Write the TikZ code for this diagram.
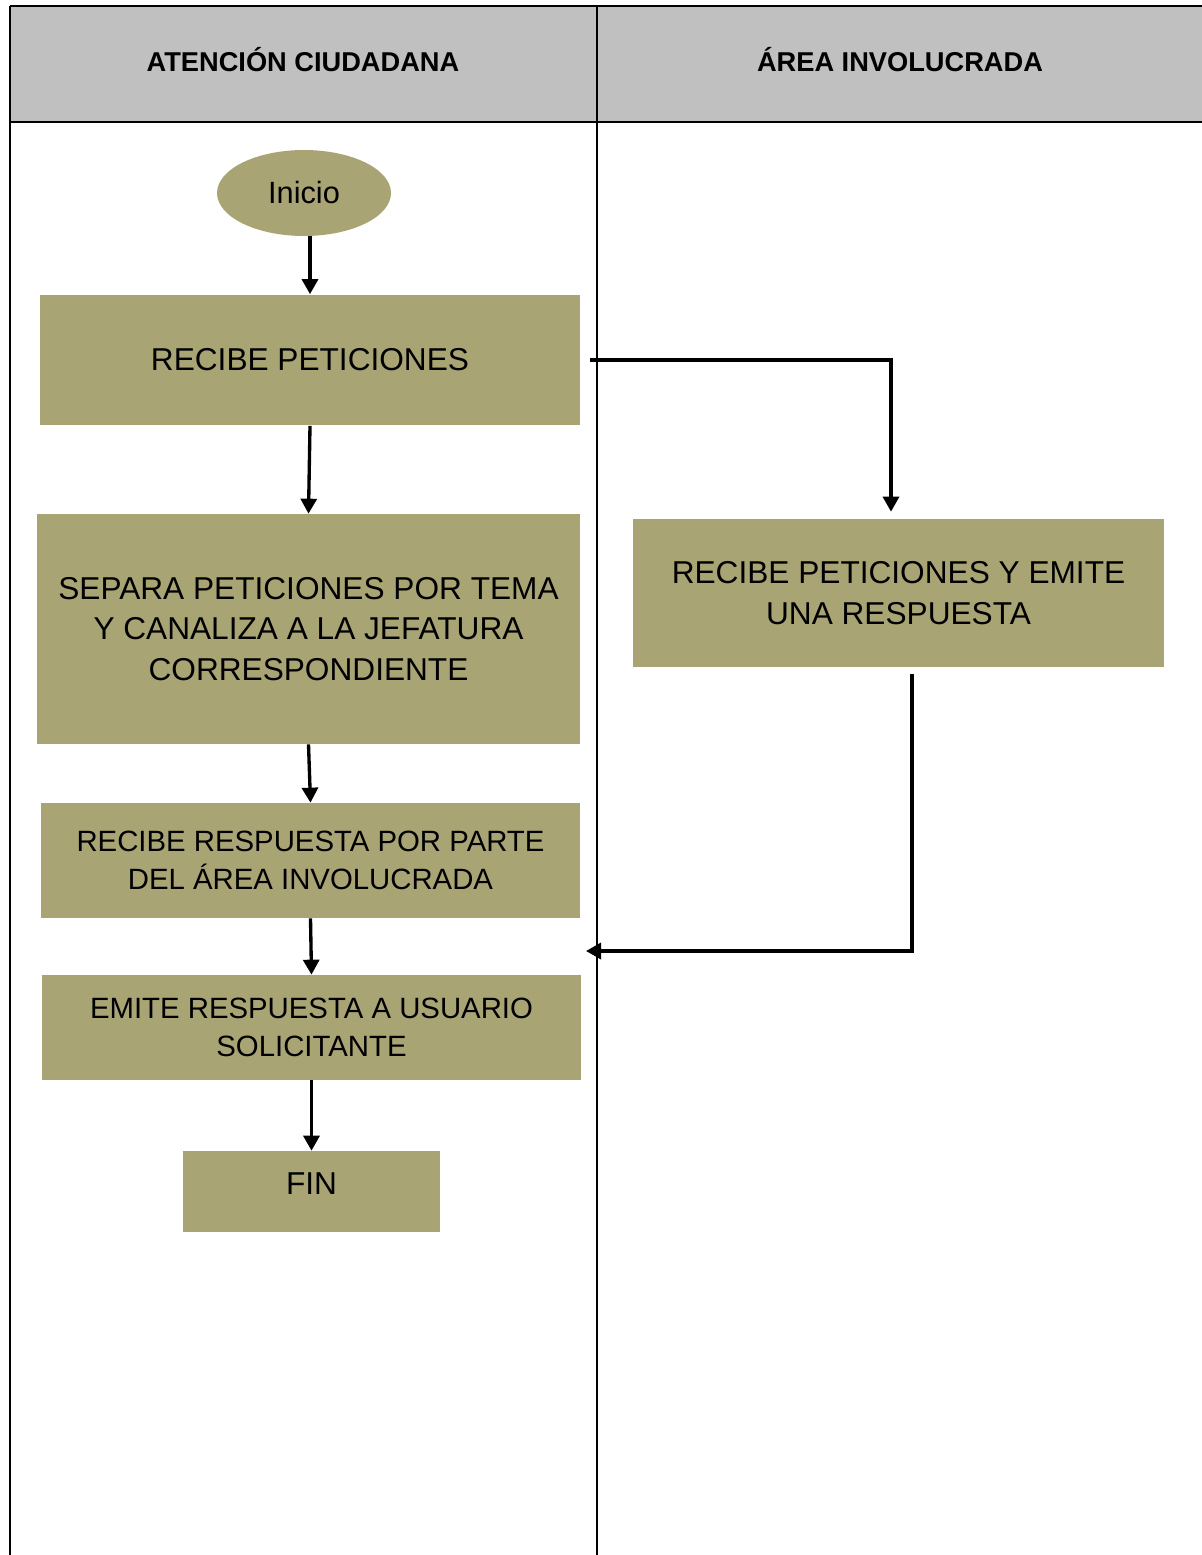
\documentclass[tikz,border=0pt]{standalone}
\usepackage{fontspec}
\setmainfont{Liberation Sans}
\usepackage{xcolor}
\usetikzlibrary{arrows.meta,shapes.geometric}

\definecolor{olivebox}{RGB}{168,164,116}
\definecolor{headgray}{RGB}{192,192,192}

\begin{document}
\begin{tikzpicture}[
  x=0.02cm, y=-0.02cm,
  box/.style={rectangle, fill=olivebox, align=center, inner sep=2pt, font=\fontsize{18}{23.2}\selectfont},
  smallbox/.style={box, font=\fontsize{16.7}{21.5}\selectfont},
  lane/.style={line width=1.1pt},
  arrow/.style={-{Triangle[length=3mm,width=3.2mm]}, line width=1.9pt},
  title/.style={font=\bfseries\fontsize{15.5}{18}\selectfont}
]
\useasboundingbox (0,0) rectangle (1202,1555);
% header and lanes
\fill[headgray] (10,6) rectangle (1202,122);
\draw[lane] (10,6) -- (1202,6);
\draw[lane] (10,122) -- (1202,122);
\draw[lane] (10,6) -- (10,1555);
\draw[lane] (597,6) -- (597,1555);
\node[title] (laneA) at (303,60) {ATENCIÓN CIUDADANA};
\node[title] (laneB) at (900,60) {ÁREA INVOLUCRADA};

\node[ellipse, fill=olivebox, minimum width=3.48cm, minimum height=1.72cm, font=\fontsize{17.5}{23}\selectfont] (inicio) at (304,193) {Inicio};
\node[box, minimum width=10.8cm, minimum height=2.62cm] (recibe) at (310,360) {RECIBE PETICIONES};
\node[box, minimum width=10.86cm, minimum height=4.6cm] (separa) at (308.5,629) {SEPARA PETICIONES POR TEMA\\Y CANALIZA A LA JEFATURA\\CORRESPONDIENTE};
\node[smallbox, minimum width=10.78cm, minimum height=2.3cm] (respuesta) at (310.5,860.5) {RECIBE RESPUESTA POR PARTE\\DEL ÁREA INVOLUCRADA};
\node[smallbox, minimum width=10.78cm, minimum height=2.1cm] (emite) at (311.5,1027.5) {EMITE RESPUESTA A USUARIO\\SOLICITANTE};
\node[box, minimum width=5.14cm, minimum height=1.62cm, text depth=0.3cm] (fin) at (311.5,1191.5) {FIN};
\node[box, minimum width=10.62cm, minimum height=2.96cm] (area) at (898.5,593) {RECIBE PETICIONES Y EMITE\\UNA RESPUESTA};
\coordinate (ret) at (586,951);

\draw[arrow] (recibe.north |- inicio.south) -- (recibe.north);
\draw[arrow] (recibe.south) -- (separa.north);
\draw[arrow] (separa.south) -- (respuesta.north);
\draw[arrow] (respuesta.south) -- (emite.north);
\draw[arrow] (emite.south) -- (fin.north);
\draw[arrow] ([xshift=0.2cm]recibe.east) -| ([xshift=-0.15cm,yshift=0.14cm]area.north);
\draw[arrow] ([xshift=0.27cm,yshift=-0.14cm]area.south) |- (ret);
\end{tikzpicture}
\end{document}
